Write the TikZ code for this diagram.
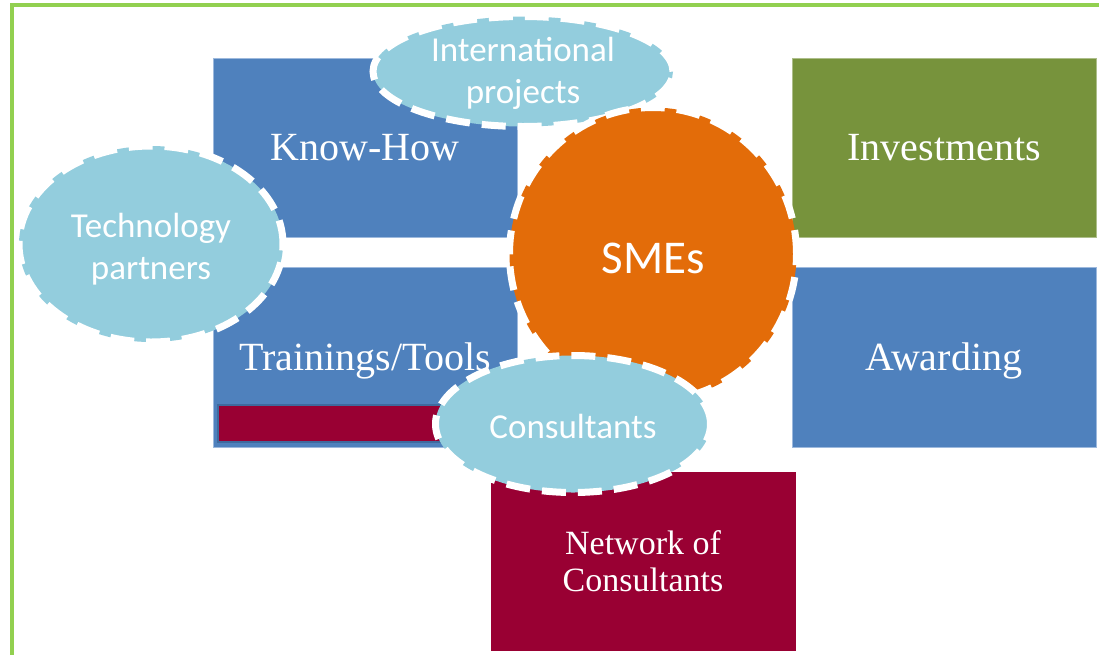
\documentclass[tikz,border=0pt]{standalone}
\usepackage{fontspec}
\setmainfont{Liberation Serif}
\newfontfamily\calfont{Carlito}
\usetikzlibrary{shapes.geometric}
\definecolor{boxblue}{HTML}{4F81BD}
\definecolor{boxgreen}{HTML}{77933C}
\definecolor{smeorange}{HTML}{E36C09}
\definecolor{maroon}{HTML}{990033}
\definecolor{lightblue}{HTML}{93CDDD}
\definecolor{framegreen}{HTML}{92D050}
\definecolor{edgeblue}{HTML}{9DB9DD}
\definecolor{darkedge}{HTML}{3F6A9E}
\tikzset{
  boxnode/.style={rectangle, draw=edgeblue, line width=0.8pt, inner sep=0pt, minimum width=304pt},
  boxlabel/.style={text=white, inner sep=0pt, align=center, font=\fontsize{40}{44}\selectfont},
  bubble/.style={ellipse, fill=lightblue, draw=white, line width=7pt, dash pattern=on 24pt off 12pt,
    inner sep=0pt},
  bubtext/.style={text=white, inner sep=0pt, align=center, font=\calfont\fontsize{35}{42}\selectfont},
}
\begin{document}
\begin{tikzpicture}[x=1pt,y=-1pt]
\useasboundingbox (0,0) rectangle (1099,654);
\fill[white] (0,0) rectangle (1099,654);
% frame
\draw[framegreen, line width=3.2pt] (12,656) -- (12,5) -- (1101,5);
% boxes
\node[boxnode, fill=boxblue, minimum height=179pt] (know) at (365,147.5) {};
\node[boxlabel] (knowtext) at (know.center) {Know-How};
\node[boxnode, fill=boxblue, minimum height=180pt] (train) at (365,357) {};
\node[boxlabel] (traintext) at ([yshift=-4pt]train.center) {Trainings/Tools};
\node[boxnode, fill=boxgreen, minimum height=179pt, draw=boxgreen!60!white] (invest) at (944,147.5) {};
\node[boxlabel] (investtext) at (invest.center) {Investments};
\node[boxnode, fill=boxblue, minimum height=180pt] (award) at (944,357) {};
\node[boxlabel] (awardtext) at ([yshift=-4pt]award.center) {Awarding};
\node[boxnode, fill=maroon, draw=maroon, minimum height=178pt] (network) at (643,561) {};
\node[boxlabel, font=\fontsize{34}{36.5}\selectfont] (networktext) at (network.center) {Network of\\Consultants};
% maroon bar inside trainings
\node[rectangle, fill=maroon, draw=darkedge, line width=1.5pt, minimum width=230pt, minimum height=37pt, inner sep=0pt] (bar) at (333,423.5) {};
% ellipses
\node[bubble, minimum width=264pt, minimum height=196pt] (tech) at (151,244) {};
\node[bubtext] (techtext) at ([yshift=-5pt]tech.center) {Technology\\partners};
\node[bubble, minimum width=300pt, minimum height=110pt] (intl) at (523,71.5) {};
\node[bubtext] (intltext) at ([yshift=-1.5pt]intl.center) {International\\projects};
\node[bubble, fill=smeorange, minimum width=287pt, minimum height=293pt] (sme) at (653,254) {};
\node[bubtext, font=\calfont\fontsize{47}{50}\selectfont] (smetext) at ([yshift=-4pt]sme.center) {SMEs};
\node[bubble, minimum width=275pt, minimum height=137pt] (cons) at (573,424) {};
\node[bubtext] (constext) at ([yshift=-2pt]cons.center) {Consultants};
\end{tikzpicture}
\end{document}
